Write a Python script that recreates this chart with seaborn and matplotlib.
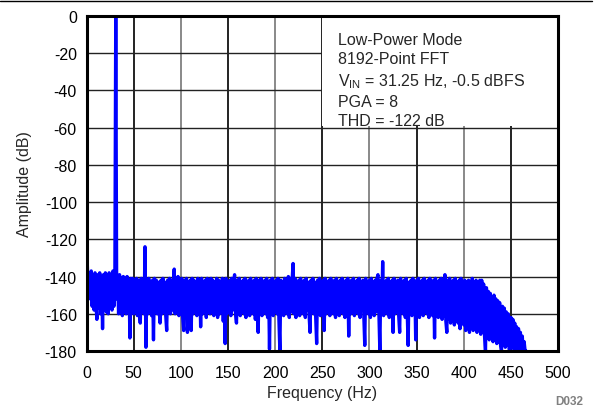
"""
FFT spectrum plot - Low-Power Mode, 8192-point FFT.
Recreated with seaborn / matplotlib.
"""

import numpy as np
import pandas as pd
import matplotlib
matplotlib.use('Agg')
import matplotlib.pyplot as plt
from matplotlib.lines import Line2D
from matplotlib.patches import Rectangle
import seaborn as sns

# ---------------------------------------------------------------------------
# Data (one value per 1 Hz bin starting at 0 Hz)
# ---------------------------------------------------------------------------
amplitude_db = [
    -120, -136, -145, -138, -152, -137, -156, -139, -158, -138,
    -155, -163, -139, -157, -138, -160, -140, -168, -139, -156,
    -138, -159, -140, -160, -138, -155, -139, -158, -137, -156,
    -150, 0, -152, -140, -160, -139, -158, -141, -161, -140,
    -157, -141, -160, -140, -159, -142, -173, -141, -158, -141,
    -160, -142, -157, -141, -161, -142, -159, -165, -141, -158,
    -142, -160, -124, -178, -142, -160, -141, -158, -143, -161,
    -142, -174, -141, -159, -142, -160, -143, -158, -165, -142,
    -160, -141, -158, -143, -161, -169, -142, -159, -141, -160,
    -142, -158, -143, -136, -160, -141, -159, -140, -161, -142,
    -158, -141, -162, -169, -142, -160, -141, -170, -143, -159,
    -142, -169, -141, -160, -142, -158, -143, -161, -141, -159,
    -142, -167, -141, -160, -143, -158, -142, -162, -141, -159,
    -143, -160, -141, -158, -142, -161, -143, -159, -141, -162,
    -142, -160, -143, -158, -141, -164, -142, -176, -141, -160,
    -143, -159, -142, -161, -141, -158, -143, -139, -160, -165,
    -142, -159, -141, -161, -143, -158, -142, -160, -141, -162,
    -143, -159, -142, -161, -141, -158, -143, -160, -142, -163,
    -141, -160, -170, -142, -158, -141, -161, -143, -159, -142,
    -160, -141, -162, -143, -179, -142, -159, -141, -161, -143,
    -158, -142, -160, -141, -163, -180, -142, -159, -143, -161,
    -141, -158, -142, -160, -140, -162, -141, -159, -142, -133,
    -160, -141, -162, -143, -158, -142, -161, -141, -159, -143,
    -160, -142, -162, -141, -158, -143, -161, -170, -142, -159,
    -141, -160, -143, -162, -176, -142, -159, -141, -161, -143,
    -158, -142, -169, -141, -160, -143, -159, -142, -161, -141,
    -158, -143, -160, -142, -162, -141, -159, -143, -161, -142,
    -158, -141, -160, -143, -162, -142, -159, -141, -172, -143,
    -160, -142, -158, -141, -161, -143, -159, -142, -160, -141,
    -162, -143, -158, -142, -161, -177, -141, -159, -143, -160,
    -142, -162, -141, -158, -143, -161, -142, -159, -141, -139,
    -160, -180, -142, -159, -132, -161, -143, -158, -142, -160,
    -141, -162, -143, -159, -142, -170, -141, -160, -143, -158,
    -142, -161, -170, -141, -159, -143, -160, -142, -162, -141,
    -158, -177, -143, -160, -142, -161, -141, -159, -143, -174,
    -142, -160, -141, -162, -143, -158, -142, -161, -141, -159,
    -143, -160, -142, -162, -141, -158, -143, -161, -142, -173,
    -141, -160, -143, -162, -142, -159, -141, -163, -142, -161,
    -139, -164, -170, -142, -163, -141, -165, -143, -162, -142,
    -166, -141, -163, -143, -165, -142, -168, -141, -164, -143,
    -166, -142, -169, -143, -165, -142, -170, -143, -167, -141,
    -169, -143, -166, -142, -170, -144, -168, -142, -171, -142,
    -169, -144, -172, -180, -146, -171, -148, -174, -149, -172,
    -151, -175, -150, -174, -152, -176, -153, -175, -154, -177,
    -180, -156, -176, -157, -178, -159, -177, -160, -179, -180,
    -162, -178, -163, -179, -165, -180, -167, -179, -168, -180,
    -170, -180, -172, -180, -175, -180, -180,
]

x_ticks = [0, 50, 100, 150, 200, 250, 300, 350, 400, 450, 500]
y_ticks = [0, -20, -40, -60, -80, -100, -120, -140, -160, -180]

info_lines = [
    'Low-Power Mode',
    '8192-Point FFT',
    r'V$_{\mathregular{IN}}$ = 31.25 Hz, -0.5 dBFS',
    'PGA = 8',
    'THD = -122 dB',
]

# ---------------------------------------------------------------------------
# Style
# ---------------------------------------------------------------------------
sns.set_style('white')
plt.rcParams['font.family'] = ['Liberation Sans', 'DejaVu Sans']
plt.rcParams['mathtext.fontset'] = 'custom'
plt.rcParams['mathtext.rm'] = 'Liberation Sans'
plt.rcParams['axes.unicode_minus'] = False
FONT_SIZE = 11.5


def main() -> None:
    # FFT bins are 1 Hz apart in this reading of the trace
    df = pd.DataFrame({'freq': np.arange(len(amplitude_db)),
                       'amp': amplitude_db})

    fig = plt.figure(figsize=(5.95, 4.10), dpi=100)
    ax = fig.add_axes([0.1454, 0.1415, 0.7926, 0.817])

    sns.lineplot(data=df, x='freq', y='amp', ax=ax, color='#0000ff',
                 linewidth=2.4, estimator=None, sort=False, zorder=3)

    ax.set_xlim(0, 500)
    ax.set_ylim(-180, 0)
    ax.set_xticks(x_ticks)
    ax.set_yticks(y_ticks)
    ax.tick_params(axis='x', length=0, labelsize=FONT_SIZE, pad=10, colors='black')
    ax.tick_params(axis='y', length=0, labelsize=FONT_SIZE, pad=7, colors='black')
    ax.set_xlabel('Frequency (Hz)', fontsize=FONT_SIZE, labelpad=4)
    ax.set_ylabel('Amplitude (dB)', fontsize=FONT_SIZE, labelpad=9)

    # Grid: horizontal dark, vertical alternating black / gray
    ax.grid(True, axis='y', color='#222222', linewidth=1.0, zorder=1)
    ax.grid(True, axis='x', linewidth=1.3, zorder=1)
    for i, gl in enumerate(ax.get_xgridlines()):
        gl.set_color('#111111' if i % 2 == 1 else '#808080')
    ax.set_axisbelow(True)

    for spine in ax.spines.values():
        spine.set_visible(True)
        spine.set_color('black')
        spine.set_linewidth(2.2)
        spine.set_zorder(5)

    # White panel behind the info text (hides the grid there)
    ax.add_patch(Rectangle((0.4995, 0.672), 0.5005, 0.328, transform=ax.transAxes,
                           facecolor='white', edgecolor='none', zorder=2))
    ax.text(0.5335, 0.952, '\n'.join(info_lines), transform=ax.transAxes,
            ha='left', va='top', fontsize=FONT_SIZE, linespacing=1.34,
            zorder=6)

    # Header rule and figure id
    fig.add_artist(Line2D([0.0, 0.995], [0.994, 0.994], color='black',
                          linewidth=1.0, transform=fig.transFigure))
    fig.text(0.981, 0.006, 'D032', ha='right', va='bottom', fontsize=8.5,
             color='#808080', fontweight='bold')

    fig.savefig('out.png', dpi=100)
    plt.close(fig)


if __name__ == '__main__':
    main()
